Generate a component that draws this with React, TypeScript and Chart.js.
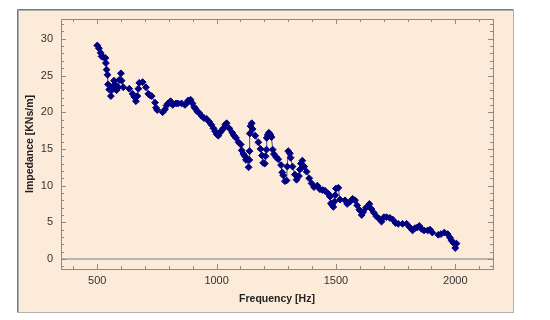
import React, { useEffect, useRef } from "react";
import { Chart, registerables } from "chart.js";
Chart.register(...registerables);

const frequencies = [
  500, 507, 514, 518, 525, 534, 536, 539, 543, 545, 550, 557, 561, 567, 570, 574, 578, 581, 588, 592, 599, 602, 609,
  634, 648, 655, 662, 668, 672, 676, 690, 704, 714, 721, 728, 742, 746, 751, 774, 784, 790, 796, 807, 816, 830, 839,
  853, 867, 874, 881, 891, 899, 906, 911, 919, 927, 937, 947, 958, 969, 978, 987, 994, 1000, 1007, 1014, 1021, 1028,
  1036, 1042, 1053, 1066, 1073, 1081, 1092, 1101, 1105, 1112, 1119, 1123, 1128, 1134, 1137, 1138, 1139, 1142, 1147,
  1151, 1162, 1175, 1184, 1190, 1195, 1202, 1205, 1209, 1210, 1214, 1219, 1226, 1230, 1235, 1240, 1249, 1258, 1270,
  1275, 1279, 1286, 1293, 1296, 1300, 1307, 1310, 1318, 1328, 1335, 1345, 1349, 1353, 1359, 1367, 1377, 1388, 1398,
  1408, 1422, 1433, 1444, 1454, 1468, 1475, 1479, 1483, 1489, 1493, 1497, 1500, 1510, 1517, 1538, 1547, 1559, 1570,
  1580, 1589, 1598, 1608, 1614, 1626, 1640, 1649, 1659, 1670, 1680, 1691, 1701, 1712, 1726, 1737, 1750, 1761, 1779,
  1796, 1810, 1821, 1831, 1841, 1849, 1859, 1869, 1884, 1894, 1904, 1929, 1940, 1954, 1968, 1978, 1985, 1992, 2000, 2005,
];
const impedance = [
  29.1, 28.7, 28.1, 27.6, 27.5, 27.4, 26.7, 25.8, 25.1, 23.8, 23.1, 22.2, 23.0, 23.6, 24.3, 23.2, 23.7, 23.0, 23.4, 24.4, 25.3, 24.3, 23.4,
  23.2, 22.5, 22.1, 21.5, 22.2, 23.2, 24.0, 24.1, 23.4, 22.5, 22.3, 22.2, 21.3, 20.6, 20.3, 20.0, 20.4, 20.9, 21.2, 21.5, 21.0, 21.2, 21.2,
  21.2, 21.0, 21.2, 21.6, 21.7, 21.2, 20.7, 20.5, 20.1, 19.9, 19.5, 19.2, 19.1, 18.7, 18.3, 17.8, 17.4, 17.0, 16.8, 17.2, 17.5, 17.8,
  18.3, 18.5, 17.8, 17.2, 16.8, 16.5, 15.9, 15.6, 14.8, 14.3, 14.0, 13.5, 13.6, 12.5, 13.5, 14.7, 17.1, 18.1, 18.5,
  17.7, 16.8, 15.9, 15.0, 14.1, 13.1, 13.0, 14.0, 14.9, 16.5, 16.9, 17.2, 16.9, 16.6, 14.9, 14.3, 13.9, 13.6, 12.8,
  11.8, 11.4, 10.6, 10.7, 12.6, 14.7, 14.4, 13.8, 12.6, 11.5, 10.8, 11.3, 12.2, 13.0, 13.4, 12.6, 11.9, 11.0, 10.3,
  9.8, 10.0, 9.5, 9.4, 9.3, 8.9, 8.5, 7.6, 7.4, 7.1, 7.8, 8.7, 9.6, 9.7, 8.1, 8.0, 7.5, 7.8, 8.2,
  8.0, 7.3, 6.7, 6.0, 6.4, 7.0, 7.5, 6.8, 6.3, 5.8, 5.5, 5.1, 5.7, 5.7, 5.6, 5.4, 4.9, 4.8, 4.8,
  4.8, 4.3, 3.9, 4.2, 4.3, 4.5, 4.1, 3.9, 3.9, 4.0, 3.6, 3.3, 3.4, 3.6, 3.4, 2.9, 2.5, 2.2, 1.5, 2.1,
];
const xTickValues = [500, 1000, 1500, 2000];
const yTickValues = [0, 5, 10, 15, 20, 25, 30];
const xTitle = "Frequency [Hz]";
const yTitle = "Impedance [KNs/m]";

const PEACH = "#fdebd9";
const NAVY = "#000080";
const FONT = "'Liberation Sans', Arial, sans-serif";

const decorPlugin = {
  id: "decor",
  beforeDraw(chart: any) {
    const { ctx, width, height } = chart;
    ctx.save();
    ctx.fillStyle = "#ffffff";
    ctx.fillRect(0, 0, width, height);
    ctx.fillStyle = PEACH;
    ctx.fillRect(18, 10, 495, 302);
    ctx.strokeStyle = "#b0b0b0";
    ctx.lineWidth = 1;
    ctx.strokeRect(18.5, 10.5, 495, 302);
    ctx.strokeStyle = "#7a7a7a";
    ctx.beginPath();
    ctx.moveTo(17.5, 312.5);
    ctx.lineTo(17.5, 9.5);
    ctx.lineTo(513.5, 9.5);
    ctx.stroke();
    ctx.restore();
  },
  beforeDatasetsDraw(chart: any) {
    const { ctx, chartArea, scales } = chart;
    const y0 = scales.y.getPixelForValue(0);
    ctx.save();
    ctx.strokeStyle = "#a0a0a0";
    ctx.lineWidth = 1.5;
    ctx.beginPath();
    ctx.moveTo(chartArea.left, y0);
    ctx.lineTo(chartArea.right, y0);
    ctx.stroke();
    ctx.restore();
  },
  afterDraw(chart: any) {
    const { ctx, chartArea, scales } = chart;
    const { left, right, top, bottom } = chartArea;
    ctx.save();
    ctx.strokeStyle = "#8c8c8c";
    ctx.lineWidth = 1;
    ctx.strokeRect(Math.round(left) + 0.5, Math.round(top) + 0.5, Math.round(right - left), Math.round(bottom - top));
    ctx.beginPath();
    const xs = scales.x;
    for (let v = Math.ceil(xs.min / 100) * 100; v <= xs.max; v += 100) {
      const px = Math.round(xs.getPixelForValue(v)) + 0.5;
      const len = v % 500 === 0 ? 5 : 3;
      ctx.moveTo(px, bottom);
      ctx.lineTo(px, bottom - len);
      ctx.moveTo(px, top);
      ctx.lineTo(px, top + len);
    }
    const ys = scales.y;
    for (let v = Math.ceil(ys.min); v <= ys.max; v += 1) {
      const py = Math.round(ys.getPixelForValue(v)) + 0.5;
      const len = v % 5 === 0 ? 5 : 3;
      ctx.moveTo(left, py);
      ctx.lineTo(left + len, py);
      ctx.moveTo(right, py);
      ctx.lineTo(right - len, py);
    }
    ctx.stroke();
    ctx.restore();
  },
};

export default function App() {
  const ref = useRef<HTMLCanvasElement | null>(null);
  useEffect(() => {
    if (!ref.current) return;
    const points = frequencies.map((f, i) => ({ x: f, y: impedance[i] }));
    const chart = new Chart(ref.current, {
      type: "scatter",
      data: {
        datasets: [
          {
            data: points,
            showLine: true,
            borderColor: "#4a4a88",
            borderWidth: 1,
            pointStyle: "rectRot",
            pointRadius: 3.4,
            pointBorderWidth: 1,
            pointBackgroundColor: NAVY,
            pointBorderColor: NAVY,
          } as any,
        ],
      },
      options: {
        animation: false,
        responsive: true,
        maintainAspectRatio: false,
        layout: { padding: { left: 0, top: 19, right: 57, bottom: 0 } },
        plugins: { legend: { display: false }, tooltip: { enabled: false } },
        scales: {
          x: {
            type: "linear",
            min: 348,
            max: 2158,
            afterBuildTicks: (s: any) => {
              s.ticks = xTickValues.map((v) => ({ value: v }));
            },
            afterFit: (s: any) => {
              s.height = 51;
            },
            grid: { display: false, drawTicks: false },
            border: { display: false },
            ticks: {
              color: "#333333",
              padding: 5,
              callback: (v: any) => String(v),
              font: { family: FONT, size: 11 },
            },
            title: {
              display: true,
              text: xTitle,
              color: "#222222",
              padding: { top: 0, bottom: 15 },
              font: { family: FONT, size: 10.5, weight: "bold" },
            },
          },
          y: {
            type: "linear",
            min: -1.36,
            max: 32.7,
            afterBuildTicks: (s: any) => {
              s.ticks = yTickValues.map((v) => ({ value: v }));
            },
            afterFit: (s: any) => {
              s.width = 61;
            },
            grid: { display: false, drawTicks: false },
            border: { display: false },
            ticks: {
              color: "#333333",
              padding: 8,
              callback: (v: any) => String(v),
              font: { family: FONT, size: 11 },
            },
            title: {
              display: true,
              text: yTitle,
              color: "#222222",
              padding: { top: 24, bottom: 0 },
              font: { family: FONT, size: 10.5, weight: "bold" },
            },
          },
        },
      },
      plugins: [decorPlugin],
    });
    return () => chart.destroy();
  }, []);
  return (
    <div style={{ position: "absolute", left: 0, top: 0, width: 550, height: 320 }}>
      <canvas ref={ref} />
    </div>
  );
}
